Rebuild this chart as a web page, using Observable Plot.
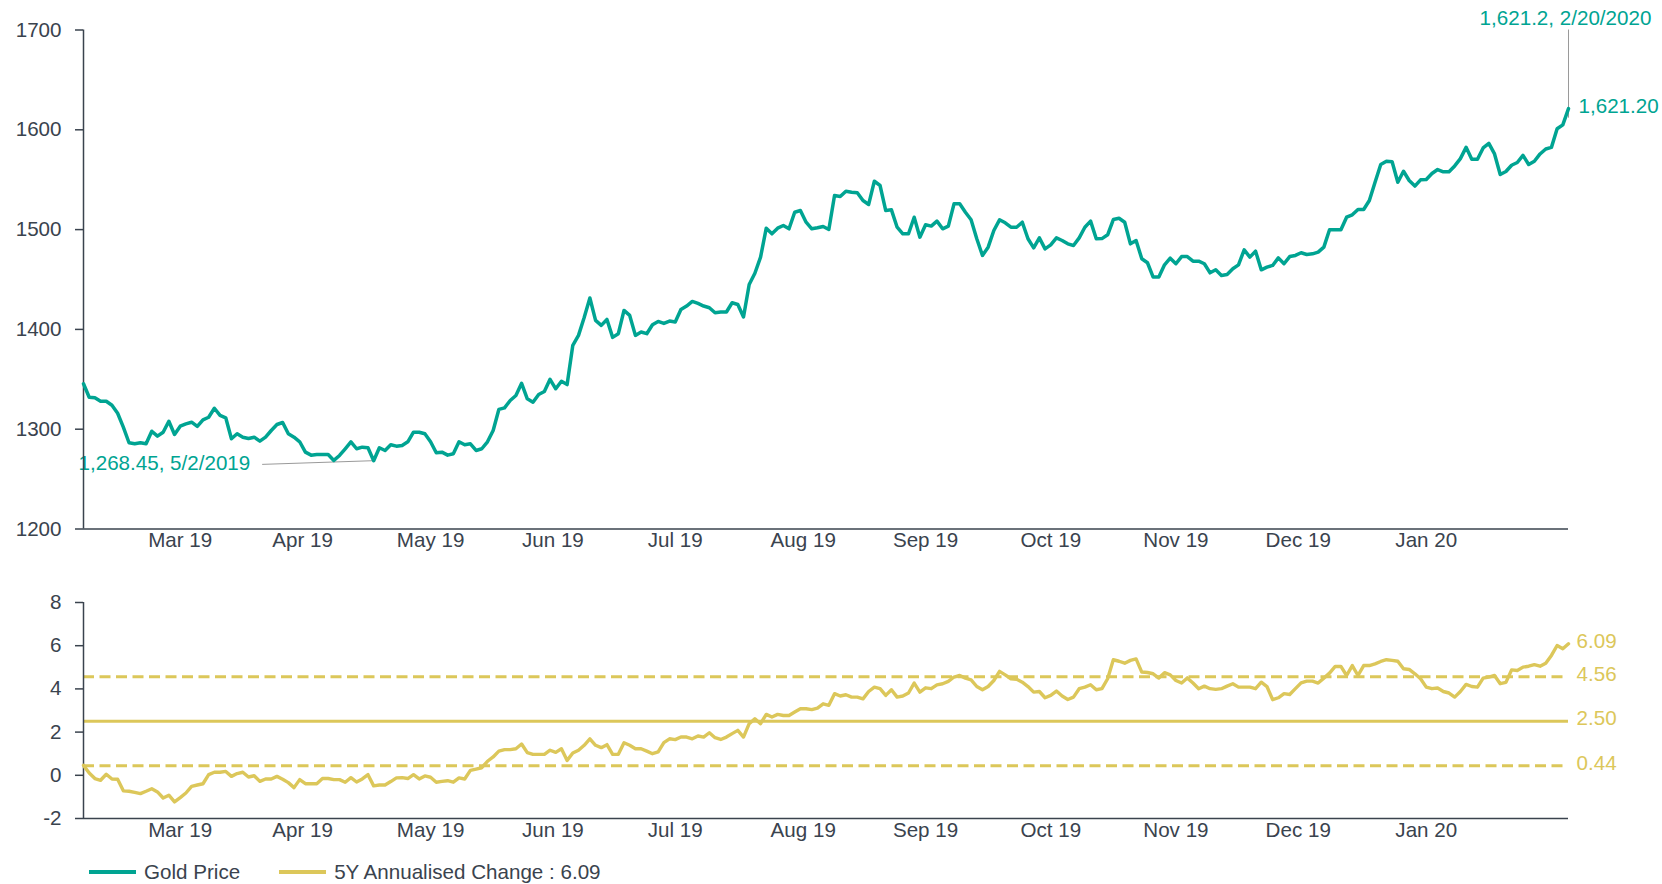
<!DOCTYPE html>
<html>
<head>
<meta charset="utf-8">
<script src="https://cdn.jsdelivr.net/npm/d3@7"></script>
<script src="https://cdn.jsdelivr.net/npm/@observablehq/plot@0.6"></script>
<style>
  body { margin: 0; background: #fff; font-family: "Liberation Sans", Arial, sans-serif; }
  #wrap { position: relative; width: 1662px; height: 884px; overflow: hidden; }
  #topChart { position: absolute; left: 0; top: 0; }
  #bottomChart { position: absolute; left: 0; top: 560px; }
  #legend { position: absolute; left: 89px; top: 860px; height: 24px; display: flex; align-items: center; font-size: 20.6px; color: #3a434e; white-space: nowrap; }
  .sw { display: inline-block; width: 47px; height: 4px; margin-right: 8px; }
  .item { display: flex; align-items: center; }
</style>
</head>
<body>
<div id="wrap"><div id="topChart"></div><div id="bottomChart"></div><div id="legend"></div></div>
<script>
// ---------------- data ----------------
const startDate = "2019-02-20"; // first trading day shown (weekdays only)

const goldPrice = [
1345.5,1332,1331.5,1328,1328,1324,1316,1302,1286.4,1285.4,
1286.4,1285.4,1298,1293,1297,1308,1294.7,1303,1305.4,1307,
1302.8,1309.4,1312,1321,1313.8,1311.4,1290.4,1295.4,1292,1290.7,
1292,1288,1292,1298.7,1304.7,1306.7,1295.4,1292,1287.4,1277,
1274,1274.7,1274.7,1274.7,1268.7,1273.7,1280.4,1287.4,1280.4,1282,
1281.4,1268.45,1281.4,1278.7,1284.4,1283,1283.7,1287.4,1297,1297,
1295.4,1287.4,1276.4,1277,1274,1275.4,1287.4,1284.4,1285.4,1278.7,
1280.4,1287.4,1298.7,1319.8,1321.4,1328.8,1333.8,1346,1330.4,1327,
1334.8,1337.8,1350,1340.5,1348,1344.7,1384,1394,1412,1431.5,
1409,1404,1410,1392,1395.7,1419,1414,1394,1397.4,1395.7,
1404.7,1408,1406,1408.4,1407.4,1420,1423.4,1428,1426,1423.4,
1421.7,1416.7,1417.4,1417.4,1426.7,1425,1412.4,1445,1456.3,1472.4,
1501.4,1495.8,1501.4,1504.1,1500.8,1517.4,1519.1,1507.4,1500.8,1501.8,
1503.1,1500.1,1534.2,1533.2,1538.5,1537.5,1536.9,1529.1,1525.2,1548.5,
1544.2,1519.1,1519.8,1502.4,1495.8,1495.8,1512.4,1492.4,1504.8,1503.5,
1508.5,1500.8,1503.5,1525.8,1525.8,1517.4,1509.8,1490.8,1474.1,1482.4,
1499.1,1509.8,1506.8,1502.4,1502.4,1507.4,1490.8,1481.7,1491.7,1480.7,
1484.7,1491.7,1489.1,1485.7,1484.1,1491.7,1502.4,1508.5,1490.8,1491,
1494.8,1510.1,1511.4,1507.4,1485.7,1489.1,1470.8,1466.8,1452.4,1452.4,
1464.7,1471.4,1465.8,1473,1473,1468.4,1468.4,1465.8,1456.7,1459.7,
1454.1,1455.1,1460.8,1464.7,1479.7,1472.4,1478.4,1459.7,1462.4,1464.1,
1471.7,1465.8,1473,1474.1,1476.8,1475.1,1475.7,1477.4,1482.4,1499.8,
1499.8,1499.8,1512.4,1514.8,1520.1,1520.1,1529.1,1547.5,1565.2,1568.5,
1567.9,1547.5,1558.5,1549.2,1543.6,1549.9,1550.2,1556.2,1560.2,1557.9,
1557.9,1563.8,1571.1,1582.4,1570.5,1570.5,1581.8,1586.4,1575.8,1555.2,
1558.2,1564.5,1567.2,1574.4,1565.2,1568.5,1575.8,1580.8,1582.4,1601,
1605,1621.2
];

const annualised5Y = [
0.46,0.11,-0.15,-0.23,0.05,-0.17,-0.18,-0.72,-0.74,-0.79,
-0.85,-0.74,-0.62,-0.77,-1.05,-0.92,-1.23,-1.03,-0.82,-0.51,
-0.45,-0.39,0.03,0.14,0.14,0.18,-0.05,0.08,0.14,-0.08,
-0.02,-0.28,-0.17,-0.17,-0.05,-0.18,-0.34,-0.57,-0.2,-0.39,
-0.39,-0.39,-0.15,-0.15,-0.2,-0.2,-0.32,-0.11,-0.31,-0.17,
0.03,-0.49,-0.45,-0.45,-0.29,-0.12,-0.11,-0.15,0.03,-0.17,
-0.03,-0.09,-0.32,-0.28,-0.25,-0.32,-0.12,-0.17,0.23,0.29,
0.35,0.65,0.85,1.12,1.19,1.19,1.23,1.45,1.05,0.97,
0.97,0.97,1.16,1.06,1.23,0.69,1.03,1.16,1.39,1.69,
1.39,1.28,1.42,0.97,0.97,1.51,1.39,1.23,1.23,1.12,
1.0,1.08,1.51,1.69,1.65,1.77,1.77,1.69,1.82,1.77,
1.97,1.74,1.66,1.77,1.93,2.08,1.77,2.39,2.62,2.39,
2.82,2.70,2.82,2.77,2.77,2.93,3.08,3.08,3.04,3.11,
3.31,3.24,3.78,3.67,3.73,3.62,3.62,3.54,3.88,4.08,
4.01,3.70,3.96,3.62,3.67,3.81,4.27,3.85,4.05,4.01,
4.19,4.24,4.35,4.55,4.62,4.50,4.42,4.11,3.96,4.11,
4.39,4.81,4.65,4.47,4.45,4.31,4.11,3.85,3.88,3.59,
3.70,3.90,3.67,3.51,3.62,4.01,4.08,4.19,3.96,4.01,
4.47,5.35,5.28,5.19,5.32,5.39,4.78,4.76,4.70,4.50,
4.75,4.65,4.39,4.27,4.51,4.27,4.01,4.13,4.01,3.98,
4.01,4.13,4.24,4.08,4.08,4.08,4.01,4.31,4.11,3.50,
3.59,3.78,3.74,4.01,4.28,4.36,4.36,4.27,4.50,4.73,
5.04,5.04,4.62,5.08,4.62,5.08,5.08,5.16,5.27,5.35,
5.32,5.28,4.93,4.90,4.70,4.47,4.08,4.01,4.04,3.88,
3.81,3.62,3.88,4.21,4.11,4.08,4.50,4.55,4.62,4.24,
4.30,4.88,4.85,5.01,5.05,5.12,5.05,5.19,5.55,6.01,
5.86,6.09
];

const referenceLevels = [4.56, 2.50, 0.44];
const referenceDashed = [true, false, true];

const goldTicks = [1200, 1300, 1400, 1500, 1600, 1700];
const changeTicks = [-2, 0, 2, 4, 6, 8];
const seriesNames = ["Gold Price", "5Y Annualised Change"];

// ---------------- derived tables ----------------
const teal = "#00a492";
const yellow = "#dcc75a";
const axisColor = "#3a434e";
const FS = 20.6;

const dates = [];
{
  const d = new Date(startDate + "T00:00:00Z");
  while (dates.length < goldPrice.length) {
    const wd = d.getUTCDay();
    if (wd !== 0 && wd !== 6) dates.push(new Date(d));
    d.setUTCDate(d.getUTCDate() + 1);
  }
}
const goldData = goldPrice.map((v, i) => ({i, v, date: dates[i]}));
const changeData = annualised5Y.map((v, i) => ({i, v, date: dates[i]}));
const lastIdx = goldPrice.length - 1;

// month labels centred on each full month's trading days
const monthGroups = d3.groups(goldData, d => d3.utcFormat("%Y-%m")(d.date));
const monthTicks = monthGroups.slice(1, -1).map(([k, arr]) => ({
  pos: d3.mean(arr, d => d.i),
  label: d3.utcFormat("%b %y")(arr[0].date)
}));
const tickLabel = new Map(monthTicks.map(d => [d.pos, d.label]));

const minPt = goldData[d3.minIndex(goldData, d => d.v)];
const lastPt = goldData[lastIdx];
const lastChange = changeData[lastIdx];
const fmtDate = d3.utcFormat("%-m/%-d/%Y");

const W = 1662;
const baseStyle = {fontFamily: "'Liberation Sans', Arial, sans-serif", fontSize: FS + "px", color: axisColor, background: "transparent", overflow: "visible"};

// ---------------- top chart ----------------
const topPlot = Plot.plot({
  width: W, height: 560,
  marginLeft: 83, marginRight: 94, marginTop: 29.5, marginBottom: 31.5,
  style: baseStyle,
  x: {domain: [0, lastIdx], axis: null, label: null},
  y: {domain: [1200, 1700], axis: null, label: null},
  marks: [
    Plot.axisY(goldTicks, {label: null, tickSize: 8, tickPadding: 14, tickFormat: d => String(d), strokeWidth: 1.5, fontSize: FS}),
    Plot.axisX(monthTicks.map(d => d.pos), {label: null, tickSize: 0, tickPadding: 3.5, tickFormat: p => tickLabel.get(p), fontSize: FS}),
    Plot.text([minPt], {x: 0, y: "v", dx: -5, dy: 2.5, textAnchor: "start", fill: teal, fontSize: FS,
      text: d => d3.format(",")(d.v) + ", " + fmtDate(d.date)}),
    Plot.ruleY([1200], {stroke: axisColor, strokeWidth: 1.5}),
    Plot.ruleX([0], {y1: 1200, y2: 1700, stroke: axisColor, strokeWidth: 1.5}),
    Plot.link([minPt], {x1: d => d.i - 19.6, y1: d => d.v - 3.7, x2: "i", y2: "v", stroke: "#9a9a9a", strokeWidth: 1}),
    Plot.ruleX([lastPt], {x: "i", y1: "v", y2: 1700, insetTop: 9.5, stroke: "#9a9a9a", strokeWidth: 1}),
    Plot.line(goldData, {x: "i", y: "v", stroke: teal, strokeWidth: 3.5, strokeLinejoin: "round"}),
    Plot.text([lastPt], {x: "i", y: "v", dx: 10, dy: -2, textAnchor: "start", fill: teal, fontSize: FS,
      text: d => d3.format(",.2f")(d.v)}),
    Plot.text([lastPt], {x: "i", y: 1700, dy: -11.5, dx: -3, textAnchor: "middle", fill: teal, fontSize: FS,
      text: d => d3.format(",")(d.v) + ", " + fmtDate(d.date)})
  ]
});
document.getElementById("topChart").appendChild(topPlot);

// ---------------- bottom chart ----------------
const refs = referenceLevels.map((v, k) => ({v, dashed: referenceDashed[k]}));
const bottomPlot = Plot.plot({
  width: W, height: 290,
  marginLeft: 83, marginRight: 94, marginTop: 42, marginBottom: 32,
  style: baseStyle,
  x: {domain: [0, lastIdx], axis: null, label: null},
  y: {domain: [-2, 8], axis: null, label: null},
  marks: [
    Plot.axisY(changeTicks, {label: null, tickSize: 8, tickPadding: 14, tickFormat: d => String(d), strokeWidth: 1.5, fontSize: FS}),
    Plot.axisX(monthTicks.map(d => d.pos), {label: null, tickSize: 0, tickPadding: 4, tickFormat: p => tickLabel.get(p), fontSize: FS}),
    Plot.ruleY(refs.filter(d => d.dashed), {y: "v", stroke: yellow, strokeWidth: 3, strokeDasharray: "11,5.5"}),
    Plot.ruleY(refs.filter(d => !d.dashed), {y: "v", stroke: yellow, strokeWidth: 3}),
    Plot.ruleY([-2], {stroke: axisColor, strokeWidth: 1.5}),
    Plot.ruleX([0], {y1: -2, y2: 8, stroke: axisColor, strokeWidth: 1.5}),
    Plot.line(changeData, {x: "i", y: "v", stroke: yellow, strokeWidth: 3.4, strokeLinejoin: "round"}),
    Plot.text(refs.concat([{v: lastChange.v}]), {x: lastIdx, y: "v", dx: 8, dy: -2.5, textAnchor: "start", fill: yellow, fontSize: FS,
      text: d => d.v.toFixed(2)})
  ]
});
document.getElementById("bottomChart").appendChild(bottomPlot);

// ---------------- legend ----------------
const legend = document.getElementById("legend");
legend.innerHTML =
  `<span class="item"><span class="sw" style="background:${teal}"></span>${seriesNames[0]}</span>` +
  `<span class="item" style="margin-left:39px"><span class="sw" style="background:${yellow}"></span>${seriesNames[1]} : ${lastChange.v.toFixed(2)}</span>`;
</script>
</body>
</html>
